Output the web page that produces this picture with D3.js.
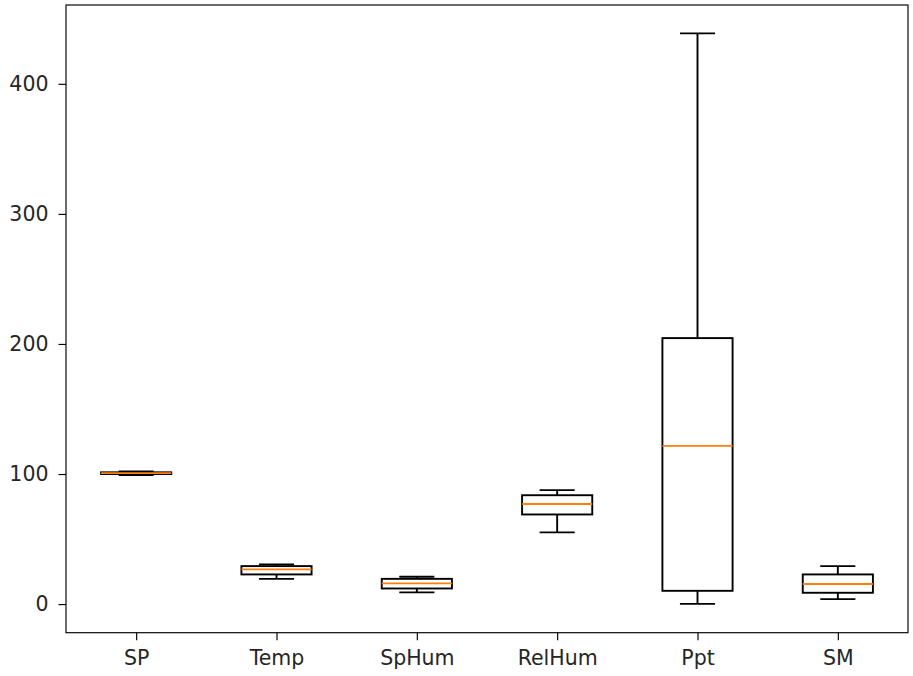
<!DOCTYPE html>
<html lang="en">
	<head>
		<meta charset="UTF-8">
		<title>Box plot</title>
		<style>
			body, html {
				margin: 0;
				background-color: #ffffff;
			}
			text {
				font-family: "DejaVu Sans", sans-serif;
				font-size: 20.5px;
				fill: #262626;
			}
		</style>
	</head>
	<body>
		<svg id="svg" width="913" height="676"></svg>

		<script src="https://d3js.org/d3.v7.min.js"></script>
		<script>
			const categories = ['SP', 'Temp', 'SpHum', 'RelHum', 'Ppt', 'SM']
			const whiskerLow = [99.3, 19.4, 9.0, 55.1, 0.2, 3.8]
			const q1 = [100.0, 22.8, 12.0, 68.9, 10.2, 8.7]
			const median = [100.7, 26.7, 15.9, 77.0, 121.6, 15.4]
			const q3 = [101.3, 29.2, 19.4, 83.7, 204.5, 22.8]
			const whiskerHigh = [102.0, 30.5, 21.0, 87.6, 438.8, 29.2]
			const yTicks = [0, 100, 200, 300, 400]

			const plotLeft = 66, plotRight = 908, plotTop = 5, plotBottom = 632.7
			const tickLen = 7.5

			const data = categories.map((c, i) => ({
				name: c, lo: whiskerLow[i], q1: q1[i], med: median[i], q3: q3[i], hi: whiskerHigh[i]
			}))

			const x = d3.scaleLinear().domain([0.5, 6.5]).range([plotLeft, plotRight])
			const y = d3.scaleLinear().domain([-22.0, 460.6]).range([plotBottom, plotTop])
			const boxW = x(1.5) - x(1)
			const capW = boxW / 2

			const svg = d3.select('#svg')

			// y axis
			const yAxis = svg.append('g').attr('transform', `translate(${plotLeft},0)`)
				.call(d3.axisLeft(y).tickValues(yTicks).tickSize(tickLen).tickPadding(10))
			yAxis.select('.domain').remove()
			yAxis.selectAll('line').attr('stroke', '#000').attr('stroke-width', 1.15)
			yAxis.selectAll('text').attr('font-size', '20.5px').attr('font-family', 'DejaVu Sans').attr('fill', '#262626')

			// x axis
			const xAxis = svg.append('g').attr('transform', `translate(0,${plotBottom})`)
				.call(d3.axisBottom(x).tickValues(d3.range(1, 7)).tickFormat(i => categories[i - 1]).tickSize(tickLen).tickPadding(10.5))
			xAxis.select('.domain').remove()
			xAxis.selectAll('line').attr('stroke', '#000').attr('stroke-width', 1.15)
			xAxis.selectAll('text').attr('font-size', '20.5px').attr('font-family', 'DejaVu Sans').attr('fill', '#262626')

			const boxes = svg.append('g')
				.selectAll('g')
				.data(data)
				.enter()
				.append('g')
				.attr('fill', 'none')
				.attr('stroke-width', 1.9)

			const cx = (d, i) => x(i + 1)

			// whiskers
			boxes.append('line')
				.attr('x1', cx).attr('x2', cx)
				.attr('y1', d => y(d.q3)).attr('y2', d => y(d.hi))
				.attr('stroke', '#000')
			boxes.append('line')
				.attr('x1', cx).attr('x2', cx)
				.attr('y1', d => y(d.q1)).attr('y2', d => y(d.lo))
				.attr('stroke', '#000')
			// caps
			boxes.append('line')
				.attr('x1', (d, i) => cx(d, i) - capW / 2).attr('x2', (d, i) => cx(d, i) + capW / 2)
				.attr('y1', d => y(d.hi)).attr('y2', d => y(d.hi))
				.attr('stroke', '#000')
			boxes.append('line')
				.attr('x1', (d, i) => cx(d, i) - capW / 2).attr('x2', (d, i) => cx(d, i) + capW / 2)
				.attr('y1', d => y(d.lo)).attr('y2', d => y(d.lo))
				.attr('stroke', '#000')
			// box
			boxes.append('rect')
				.attr('x', (d, i) => cx(d, i) - boxW / 2)
				.attr('width', boxW)
				.attr('y', d => y(d.q3))
				.attr('height', d => y(d.q1) - y(d.q3))
				.attr('stroke', '#000')
			// median
			boxes.append('line')
				.attr('x1', (d, i) => cx(d, i) - boxW / 2).attr('x2', (d, i) => cx(d, i) + boxW / 2)
				.attr('y1', d => y(d.med)).attr('y2', d => y(d.med))
				.attr('stroke', '#ff7f0e')

			// frame
			svg.append('rect')
				.attr('x', plotLeft).attr('y', plotTop)
				.attr('width', plotRight - plotLeft).attr('height', plotBottom - plotTop)
				.attr('fill', 'none')
				.attr('stroke', '#000')
				.attr('stroke-width', 1.15)
		</script>
	</body>
</html>
